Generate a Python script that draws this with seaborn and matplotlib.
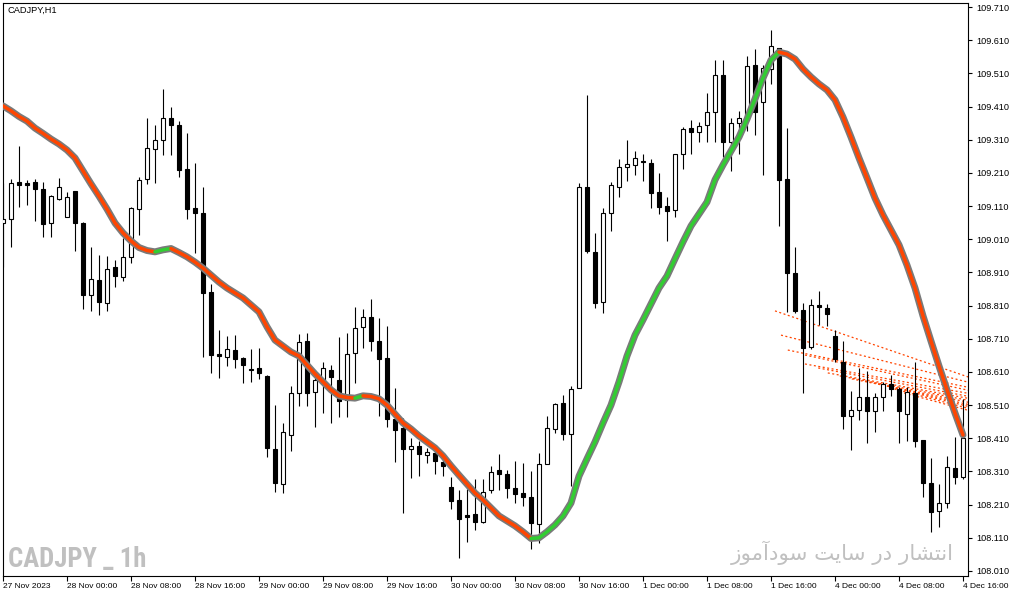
import numpy as np
import pandas as pd
import matplotlib
matplotlib.use("Agg")
import matplotlib.pyplot as plt
from matplotlib import font_manager as fm
import seaborn as sns

# ---------------- data (CADJPY H1) ----------------
opens = [109.058, 109.070, 109.182, 109.179, 109.182, 109.161, 109.060, 109.130, 109.078, 109.155,
         109.058, 108.843, 108.887, 108.819, 108.925, 108.897, 108.957, 109.100, 109.191, 109.281,
         109.308, 109.375, 109.353, 109.221, 109.104, 109.088, 108.851, 108.663, 108.656, 108.676,
         108.651, 108.619, 108.623, 108.598, 108.377, 108.271, 108.419, 108.546, 108.703, 108.551,
         108.576, 108.616, 108.586, 108.526, 108.666, 108.745, 108.775, 108.703, 108.652, 108.469,
         108.440, 108.379, 108.387, 108.361, 108.365, 108.340, 108.262, 108.224, 108.178, 108.182,
         108.159, 108.254, 108.315, 108.302, 108.259, 108.244, 108.234, 108.151, 108.332, 108.437,
         108.516, 108.422, 108.561, 109.167, 108.971, 108.820, 109.088, 109.168, 109.229, 109.233,
         109.246, 109.241, 109.153, 109.110, 109.097, 109.266, 109.344, 109.334, 109.354, 109.394,
         109.505, 109.302, 109.360, 109.381, 109.535, 109.425, 109.522, 109.586, 109.192, 108.907,
         108.797, 108.686, 108.812, 108.802, 108.718, 108.640, 108.478, 108.494, 108.535, 108.491,
         108.534, 108.573, 108.559, 108.482, 108.546, 108.404, 108.276, 108.190, 108.214, 108.320,
         108.294]
highs = [109.179, 109.191, 109.291, 109.189, 109.192, 109.183, 109.143, 109.195, 109.153, 109.155,
         109.063, 108.988, 108.963, 108.960, 108.947, 109.013, 109.108, 109.199, 109.375, 109.354,
         109.462, 109.408, 109.367, 109.329, 109.239, 109.167, 108.875, 108.737, 108.718, 108.721,
         108.654, 108.679, 108.681, 108.600, 108.510, 108.455, 108.568, 108.724, 108.727, 108.611,
         108.641, 108.631, 108.716, 108.727, 108.807, 108.799, 108.829, 108.772, 108.749, 108.561,
         108.470, 108.410, 108.403, 108.380, 108.385, 108.345, 108.293, 108.254, 108.256, 108.288,
         108.287, 108.325, 108.363, 108.315, 108.342, 108.335, 108.312, 108.367, 108.477, 108.517,
         108.541, 108.568, 109.179, 109.445, 109.028, 109.103, 109.183, 109.251, 109.309, 109.277,
         109.267, 109.252, 109.209, 109.138, 109.266, 109.349, 109.369, 109.363, 109.450, 109.550,
         109.550, 109.375, 109.397, 109.562, 109.583, 109.535, 109.641, 109.586, 109.344, 108.988,
         108.817, 108.830, 108.854, 108.815, 108.737, 108.703, 108.553, 108.621, 108.614, 108.546,
         108.581, 108.601, 108.566, 108.564, 108.640, 108.404, 108.350, 108.272, 108.357, 108.413,
         108.528]
lows = [108.927, 108.986, 109.108, 109.113, 109.066, 109.018, 109.018, 109.128, 109.078, 108.976,
        108.801, 108.793, 108.781, 108.795, 108.867, 108.885, 108.939, 109.023, 109.177, 109.179,
        109.264, 109.264, 109.199, 109.072, 108.968, 108.654, 108.608, 108.591, 108.628, 108.623,
        108.576, 108.581, 108.588, 108.353, 108.249, 108.244, 108.373, 108.508, 108.507, 108.445,
        108.487, 108.457, 108.473, 108.473, 108.576, 108.681, 108.674, 108.477, 108.445, 108.340,
        108.184, 108.290, 108.297, 108.335, 108.302, 108.297, 108.196, 108.048, 108.098, 108.134,
        108.156, 108.246, 108.254, 108.229, 108.214, 108.206, 108.076, 108.094, 108.332, 108.425,
        108.405, 108.266, 108.561, 108.970, 108.804, 108.787, 109.036, 109.136, 109.186, 109.204,
        109.186, 109.103, 109.085, 109.006, 109.076, 109.222, 109.267, 109.302, 109.304, 109.304,
        109.259, 109.217, 109.268, 109.336, 109.324, 109.204, 109.478, 109.050, 108.792, 108.788,
        108.546, 108.678, 108.752, 108.749, 108.641, 108.439, 108.375, 108.465, 108.397, 108.430,
        108.493, 108.538, 108.395, 108.403, 108.385, 108.232, 108.129, 108.144, 108.201, 108.271,
        108.287]
closes = [109.070, 109.180, 109.174, 109.174, 109.162, 109.056, 109.139, 109.167, 109.136, 109.060,
          108.843, 108.889, 108.822, 108.919, 108.899, 108.956, 109.103, 109.189, 109.284, 109.309,
          109.375, 109.353, 109.219, 109.102, 109.090, 108.849, 108.661, 108.659, 108.679, 108.648,
          108.630, 108.617, 108.608, 108.382, 108.274, 108.428, 108.546, 108.699, 108.547, 108.586,
          108.621, 108.596, 108.523, 108.664, 108.742, 108.775, 108.704, 108.650, 108.469, 108.435,
          108.379, 108.387, 108.364, 108.369, 108.343, 108.325, 108.222, 108.168, 108.174, 108.158,
          108.249, 108.309, 108.302, 108.259, 108.241, 108.234, 108.156, 108.332, 108.440, 108.513,
          108.422, 108.558, 109.167, 108.976, 108.817, 109.088, 109.173, 109.227, 109.237, 109.254,
          109.242, 109.150, 109.108, 109.096, 109.266, 109.342, 109.332, 109.351, 109.393, 109.505,
          109.302, 109.360, 109.375, 109.532, 109.393, 109.525, 109.592, 109.189, 108.907, 108.795,
          108.683, 108.812, 108.805, 108.784, 108.650, 108.478, 108.495, 108.534, 108.491, 108.535,
          108.573, 108.560, 108.491, 108.550, 108.403, 108.274, 108.189, 108.214, 108.323, 108.293,
          108.410]
ma_values = [109.412, 109.397, 109.380, 109.366, 109.345, 109.329, 109.312, 109.297, 109.279, 109.255,
             109.216, 109.177, 109.140, 109.101, 109.059, 109.029, 109.005, 108.985, 108.976, 108.972,
             108.978, 108.982, 108.970, 108.957, 108.941, 108.923, 108.902, 108.881, 108.863, 108.848,
             108.833, 108.812, 108.791, 108.746, 108.706, 108.688, 108.670, 108.658, 108.631, 108.604,
             108.580, 108.556, 108.538, 108.533, 108.531, 108.538, 108.536, 108.529, 108.510, 108.483,
             108.456, 108.438, 108.417, 108.399, 108.381, 108.357, 108.327, 108.299, 108.272, 108.245,
             108.224, 108.200, 108.176, 108.161, 108.146, 108.128, 108.108, 108.110, 108.128, 108.149,
             108.176, 108.215, 108.296, 108.348, 108.399, 108.456, 108.510, 108.580, 108.658, 108.721,
             108.767, 108.815, 108.863, 108.899, 108.951, 109.002, 109.050, 109.086, 109.122, 109.189,
             109.234, 109.276, 109.318, 109.372, 109.433, 109.496, 109.550, 109.574, 109.568, 109.553,
             109.523, 109.499, 109.478, 109.460, 109.430, 109.378, 109.318, 109.255, 109.195, 109.134,
             109.083, 109.038, 108.993, 108.932, 108.863, 108.779, 108.703, 108.628, 108.556, 108.486,
             108.420]

# dotted projection fan (start bar, start price, end price at bar 121)
fan_start_bar = [96.5, 97.25, 98.1, 100.25, 100.25, 101.9, 103.1, 104.6, 106.1, 107.75, 109.4, 110.9, 112.1]
fan_start_price = [108.794, 108.721, 108.676, 108.661, 108.634, 108.622, 108.607, 108.598, 108.589,
                   108.583, 108.574, 108.562, 108.550]
fan_end_price = [108.592, 108.577, 108.562, 108.553, 108.544, 108.535, 108.529, 108.523, 108.517,
                 108.510, 108.504, 108.498, 108.492]

x_tick_labels = ["27 Nov 2023", "28 Nov 00:00", "28 Nov 08:00", "28 Nov 16:00", "29 Nov 00:00",
                 "29 Nov 08:00", "29 Nov 16:00", "30 Nov 00:00", "30 Nov 08:00", "30 Nov 16:00",
                 "1 Dec 00:00", "1 Dec 08:00", "1 Dec 16:00", "4 Dec 00:00", "4 Dec 08:00", "4 Dec 16:00"]
y_tick_labels = ["108.010", "108.110", "108.210", "108.310", "108.410", "108.510", "108.610",
                 "108.710", "108.810", "108.910", "109.010", "109.110", "109.210", "109.310",
                 "109.410", "109.510", "109.610", "109.710"]

title_text = "CADJPY,H1"
watermark_left = "CADJPY _ 1h"
# "انتشار در سایت سودآموز" written with Arabic presentation forms in visual order
watermark_right = ("\ufeaf\ufeee\ufee3\ufe81\ufea9\ufeee\ufeb3 \ufe96\ufef3\ufe8e\ufeb3 "
                   "\ufead\ufea9 \ufead\ufe8e\ufeb8\ufe98\ufee7\ufe8d")

# ---------------- style ----------------
sns.set_theme(style="white")
plt.rcParams["font.family"] = ["Liberation Sans", "DejaVu Sans"]


def find_condensed_bold():
    prefs = ["Liberation Sans Narrow", "DejaVu Sans Condensed", "Roboto Condensed",
             "Open Sans Condensed", "DejaVu Sans"]
    best = None
    for f in fm.fontManager.ttflist:
        w = f.weight if isinstance(f.weight, int) else (700 if "bold" in str(f.weight).lower() else 400)
        narrow = ("condensed" in str(f.stretch).lower() or "Narrow" in f.name
                  or "Condensed" in f.name or "Narrow" in f.fname or "Condensed" in f.fname)
        if narrow and w >= 600 and "oblique" not in f.fname.lower() and "italic" not in f.fname.lower():
            rank = next((k for k, p in enumerate(prefs) if p in f.name), len(prefs))
            if best is None or rank < best[0]:
                best = (rank, f.fname)
    if best is not None:
        return fm.FontProperties(fname=best[1])
    return fm.FontProperties(family="Liberation Sans", weight="bold")


W, H = 1015, 596
fig = plt.figure(figsize=(W / 100, H / 100), dpi=100)
fig.patch.set_facecolor("white")
ax = fig.add_axes([3 / W, 1 - 576 / H, 965 / W, 573 / H])
ax.set_facecolor("white")

df = pd.DataFrame({"bar": np.arange(len(opens)), "open": opens, "high": highs,
                   "low": lows, "close": closes, "ma": ma_values})

# fan of dotted lines
for sb, sp, ep in zip(fan_start_bar, fan_start_price, fan_end_price):
    ax.plot([sb, 121], [sp, ep], color="#FF4500", lw=0.9, ls=(0, (1.6, 2.0)), zorder=1.5)

# candles
ax.vlines(df["bar"], df["low"], df["high"], color="black", lw=0.8, zorder=2)
up = df["close"] >= df["open"]
bottoms = np.minimum(df["open"], df["close"])
heights = np.abs(df["close"] - df["open"])
ax.bar(df["bar"], heights, bottom=bottoms, width=0.5,
       color=np.where(up, "white", "black"), edgecolor="black", linewidth=0.8, zorder=3)

# moving average: grey outline + green/red segments
sns.lineplot(data=df, x="bar", y="ma", ax=ax, color="#7a7a7a", lw=5.0, sort=False,
             zorder=4, legend=False, solid_capstyle="round")
ma = df["ma"].to_numpy()
rising = np.diff(ma) > 0
start = 0
for i in range(1, len(rising) + 1):
    if i == len(rising) or rising[i] != rising[start]:
        seg = df.iloc[start:i + 1]
        sns.lineplot(data=seg, x="bar", y="ma", ax=ax, sort=False, legend=False,
                     color="#32CD32" if rising[start] else "#FF4500", lw=2.5,
                     zorder=5, solid_capstyle="round")
        start = i

# axes
ax.set_xlim(0, 120.625)
ax.set_ylim(107.9949, 109.7221)
ax.set_xlabel("")
ax.set_ylabel("")
ax.set_xticks(np.arange(0, 121, 8))
ax.set_xticklabels(x_tick_labels, ha="left")
ax.set_yticks([float(t) for t in y_tick_labels])
ax.set_yticklabels(y_tick_labels)
ax.yaxis.tick_right()
ax.tick_params(axis="x", direction="out", length=3.5, width=0.8, pad=1.2,
               labelsize=6.0, colors="black", bottom=True)
ax.tick_params(axis="y", direction="out", length=3, width=0.8, pad=3.0,
               labelsize=6.6, colors="black", right=True, left=False,
               labelright=True, labelleft=False)
for s in ax.spines.values():
    s.set_visible(True)
    s.set_color("black")
    s.set_linewidth(0.8)
ax.grid(False)

# texts
fig.text(7 / W, 1 - 10.5 / H, title_text, fontsize=6.7, color="black", va="center", ha="left")

wm_fp = find_condensed_bold()
wm_fp.set_size(21)
t_left = fig.text(8 / W, 1 - 567 / H, watermark_left, fontproperties=wm_fp, color="#C0C0C0",
                  va="baseline", ha="left")
t_right = fig.text(954 / W, 1 - 560 / H, watermark_right, fontsize=15, color="#C0C0C0",
                   va="baseline", ha="right", family=["DejaVu Sans"])

# fit watermark widths to the reference (left ~137 px, right ~225 px)
fig.canvas.draw()
r = fig.canvas.get_renderer()
wl = t_left.get_window_extent(r).width
if wl > 0:
    t_left.set_fontsize(min(21.0, 21.0 * 138.0 / wl))
wr = t_right.get_window_extent(r).width
if wr > 0:
    t_right.set_fontsize(min(17.0, 15.0 * 224.0 / wr))

fig.savefig("out.png", dpi=100)
